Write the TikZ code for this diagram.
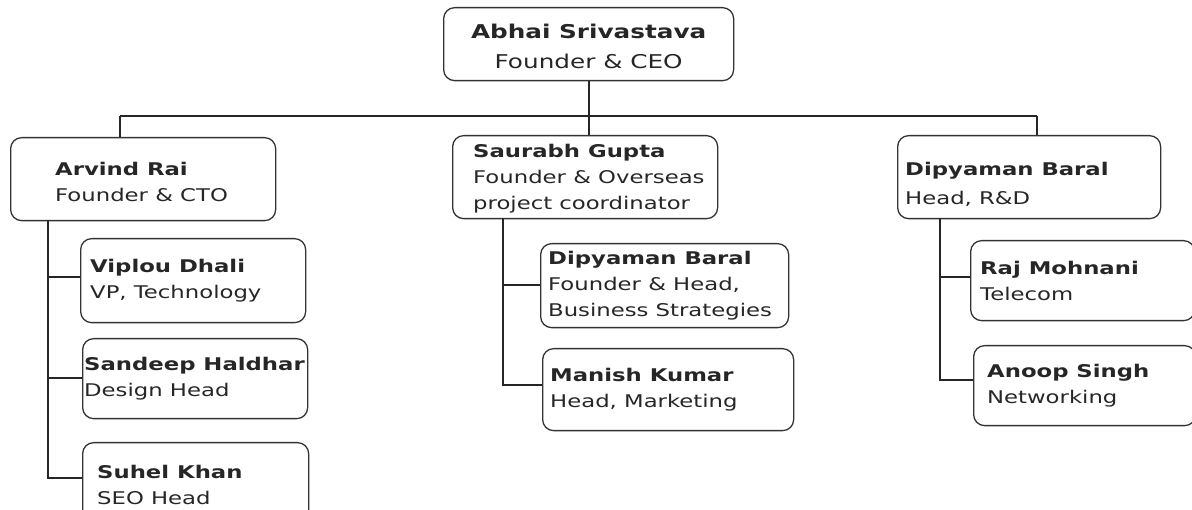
\documentclass[tikz,border=0pt]{standalone}
\usepackage{fontspec}
\setmainfont{DejaVu Sans}[FakeStretch=1.3]
\begin{document}
\begin{tikzpicture}[x=1pt,y=-1pt,
  box/.style={draw=black!80, line width=1.3pt, rounded corners=11pt, anchor=north west, inner sep=0pt},
  txt/.style={anchor=west, align=left, font=\fontsize{17.5}{26}\selectfont, inner sep=0pt, text=black!85},
  conn/.style={draw=black!85, line width=1.7pt}]
\useasboundingbox (0,0) rectangle (1192,510);
% boxes
\node[box, minimum width=290pt, minimum height=73pt] (ceo) at (443,7) {};
\node[anchor=center, align=center, inner sep=0pt, font=\fontsize{19}{30}\selectfont, text=black!85] (ceot) at ([yshift=-2pt]ceo.center) {\textbf{Abhai Srivastava}\\Founder \& CEO};

\node[box, minimum width=265pt, minimum height=83pt] (arvind) at (10,137) {};
\node[txt] (arvindt) at ([xshift=45pt,yshift=-3pt]arvind.west) {\textbf{Arvind Rai}\\Founder \& CTO};

\node[box, minimum width=225pt, minimum height=84pt] (viplou) at (80,238) {};
\node[txt] (viplout) at ([xshift=10pt]viplou.west) {\textbf{Viplou Dhali}\\VP, Technology};

\node[box, minimum width=225pt, minimum height=80pt] (sandeep) at (82,338) {};
\node[txt] (sandeept) at ([xshift=2pt]sandeep.west) {\textbf{Sandeep Haldhar}\\Design Head};

\node[box, minimum width=226pt, minimum height=84pt] (suhel) at (82,442) {};
\node[txt] (suhelt) at ([xshift=15pt]suhel.west) {\textbf{Suhel Khan}\\SEO Head};

\node[box, minimum width=265pt, minimum height=83pt] (saurabh) at (452,135) {};
\node[txt] (saurabht) at ([xshift=21pt,yshift=-2pt]saurabh.west) {\textbf{Saurabh Gupta}\\Founder \& Overseas\\project coordinator};

\node[box, minimum width=248pt, minimum height=84pt] (dipb) at (540,243) {};
\node[txt] (dipbt) at ([xshift=8pt]dipb.west) {\textbf{Dipyaman Baral}\\Founder \& Head,\\Business Strategies};

\node[box, minimum width=251pt, minimum height=82pt] (manish) at (542,348) {};
\node[txt] (manisht) at ([xshift=8pt]manish.west) {\textbf{Manish Kumar}\\Head, Marketing};

\node[box, minimum width=263pt, minimum height=83pt] (dipa) at (897,135) {};
\node[txt, font=\fontsize{17.5}{29}\selectfont] (dipat) at ([xshift=8pt,yshift=-7pt]dipa.west) {\textbf{Dipyaman Baral}\\Head, R\&D};

\node[box, minimum width=224pt, minimum height=80pt] (raj) at (970,240) {};
\node[txt] (rajt) at ([xshift=10pt]raj.west) {\textbf{Raj Mohnani}\\Telecom};

\node[box, minimum width=222pt, minimum height=80pt] (anoop) at (973,345) {};
\node[txt] (anoopt) at ([xshift=14pt]anoop.west) {\textbf{Anoop Singh}\\Networking};

% connectors
\coordinate (bar) at (589,116);
\coordinate (barL) at (120,116);
\coordinate (barR) at (1037,116);
\draw[conn] (ceo.south -| bar) -- (bar);
\draw[conn] (barL) -- (barR);
\draw[conn] (barL) -- (barL |- arvind.north);
\draw[conn] (bar) -- (bar |- saurabh.north);
\draw[conn] (barR) -- (barR |- dipa.north);

\coordinate (lA) at (48,220);
\draw[conn] (lA) -- (48,478) -- (48,478 -| suhel.west);
\draw[conn] (48,277) -- (48,277 -| viplou.west);
\draw[conn] (48,378) -- (48,378 -| sandeep.west);

\coordinate (lS) at (503,218);
\draw[conn] (lS) -- (503,385) -- (503,385 -| manish.west);
\draw[conn] (503,285) -- (503,285 -| dipb.west);

\coordinate (lD) at (940,218);
\draw[conn] (lD) -- (940,380) -- (940,380 -| anoop.west);
\draw[conn] (940,277) -- (940,277 -| raj.west);
\end{tikzpicture}
\end{document}
